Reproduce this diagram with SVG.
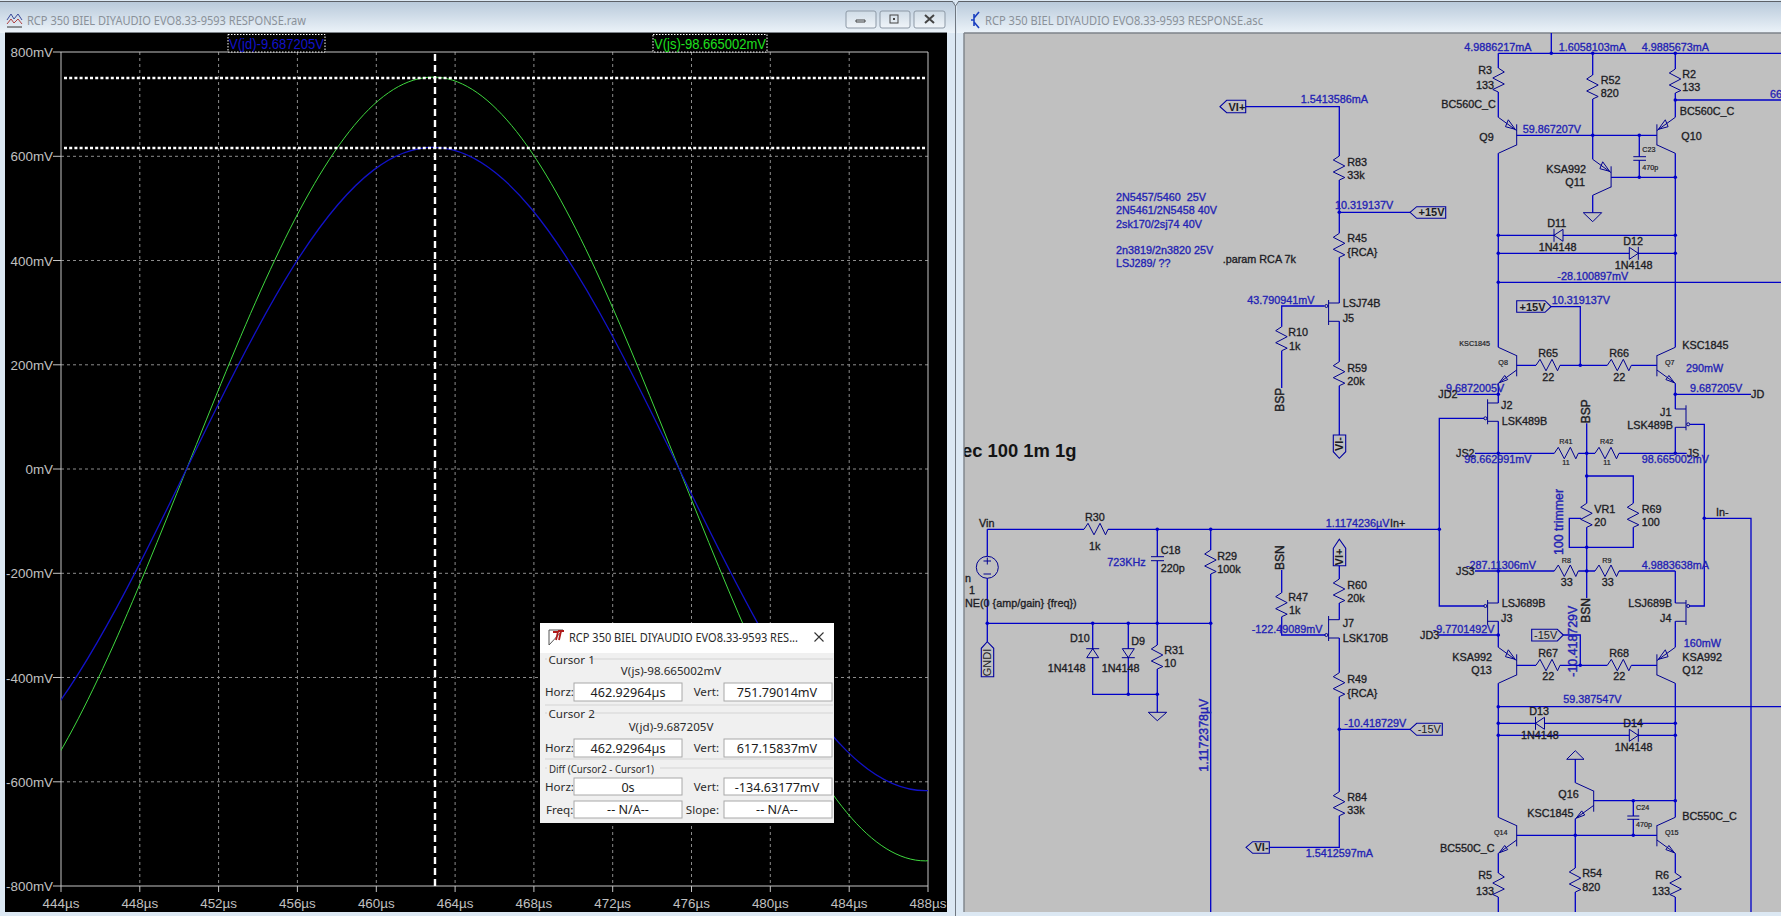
<svg xmlns="http://www.w3.org/2000/svg" width="1781" height="916" viewBox="0 0 1781 916">
<style>
text{font-family:"Liberation Sans",Arial,sans-serif}
.t{font-size:10.8px;fill:#1c1c24;stroke:#1c1c24;stroke-width:.32}
.b{font-size:10.8px;fill:#2222b4;stroke:#2222b4;stroke-width:.32}
.s{font-size:7.2px;fill:#1c1c24;stroke:#1c1c24;stroke-width:.2}
.f{font-size:11px;font-weight:bold;fill:#1c1c24}
.lg{font-size:12px;fill:#1c1c24;stroke:#1c1c24;stroke-width:.4}
.lb{font-size:12.4px;fill:#2222b4;stroke:#2222b4;stroke-width:.4}
.w{fill:none;stroke:#0000c8;stroke-width:1.3}
.sym{fill:none;stroke:#000090;stroke-width:1}
.symf{fill:#c0c0c0;stroke:#000090;stroke-width:1}
.flag{fill:none;stroke:#0000a0;stroke-width:1.1}
.j{fill:#0000c8}
.gh{stroke:#8c8c8c;stroke-width:1;stroke-dasharray:3 3;fill:none}
.ax{stroke:#c4c4c4;stroke-width:1;fill:none}
.yl{font-size:13.4px;fill:#c0c0c0;text-anchor:end}
.xl{font-size:13.4px;fill:#c0c0c0;text-anchor:middle}
.cur{fill:none;stroke:#fff;stroke-width:2.4;stroke-dasharray:3 2.2}
.wave{fill:none}
.tt{font-family:"Noto Sans","Open Sans",sans-serif;font-size:12.6px;fill:#8a9199}
.d{font-family:"Noto Sans","Open Sans",sans-serif;font-size:11.6px;fill:#2b2b2b}
.dm{text-anchor:middle}
.de{text-anchor:end}
.dv{font-family:"Noto Sans","Open Sans",sans-serif;font-size:12.6px;fill:#1c1c1c;text-anchor:middle}
.box{fill:#fff;stroke:#a8a8a8;stroke-width:1}
.sep{stroke:#d4d4d4;stroke-width:1;fill:none}
.btn{fill:url(#bt);stroke:#8d99a6;stroke-width:1}
</style>
<defs>
<linearGradient id="tb" x1="0" y1="0" x2="0" y2="1"><stop offset="0" stop-color="#b9cadb"/><stop offset="1" stop-color="#ecf3f9"/></linearGradient>
<linearGradient id="bt" x1="0" y1="0" x2="0" y2="1"><stop offset="0" stop-color="#cfdbe6"/><stop offset="1" stop-color="#f0f5f9"/></linearGradient>
<path id="r" class="sym" d="M0 0L6 4L-5.5 10L6 16L-5.5 21.5L0 24"/>
<path id="qout" class="sym" d="M0 -10V11M0 -9.6L-18.4 -18M0 4.7L-18.4 18M-9 14.3L-17.5 17.5L-12 10.2L-9 14.3"/>
<path id="qin" class="sym" d="M0 -10V11M0 -9.6L-18.4 -18M0 4.7L-18.4 18M-8.4 15.5L-1.5 6L-11.2 8.6L-8.4 15.5"/>
<g id="jf"><path class="sym" d="M0 -19V6M0 -15.3H10.7M0 3H10.7"/><circle class="sym" cx="-2.2" cy="0" r="1.5"/></g>
<path id="dd" class="symf" d="M0 -6L9 0L0 6ZM9 -6.5V6.5"/>
<circle id="jn" class="j" r="1.8"/>
<clipPath id="schem"><rect x="964.500" y="33" width="817" height="879"/></clipPath>
<clipPath id="plotclip"><rect x="61" y="52" width="867" height="834"/></clipPath>
</defs>

<g id="desktop">
<rect x="0" y="0" width="1781" height="916" fill="#dce8f3"/>
<rect x="0" y="2" width="955" height="31" fill="url(#tb)"/>
<rect x="957" y="2" width="824" height="31" fill="url(#tb)"/>
<path d="M0 1.5H953M958 1.5H1781" stroke="#5c6168" stroke-width="1.2" fill="none"/>
<path d="M952 1L955.5 6L959 1M955.5 6V916" stroke="#6f7780" stroke-width="1" fill="none"/>
</g>

<g id="plot-window">
<rect x="5" y="32" width="942" height="880" fill="#000"/>
<path d="M5 32.5H947" stroke="#7d8389" stroke-width="1.2" fill="none"/>
<text class="tt" x="27" y="25" textLength="279" lengthAdjust="spacingAndGlyphs">RCP 350 BIEL DIYAUDIO EVO8.33-9593 RESPONSE.raw</text>
<g id="raw-icon" fill="none" stroke-width="1"><path d="M7 20L11 14L14 19L18 14L22 20" stroke="#3a4a9a"/><path d="M7 24L11 19L14 23L18 19L22 24" stroke="#b04040"/><path d="M7 27H22" stroke="#333"/></g>
<g id="raw-buttons"><rect class="btn" x="846" y="11" width="30" height="17" rx="2"/><path d="M856 22H865V20H856Z" fill="none" stroke="#444"/><rect class="btn" x="880" y="11" width="30" height="17" rx="2"/><rect x="890" y="15" width="8" height="8" fill="none" stroke="#444"/><rect x="893" y="18" width="2" height="2" fill="#444"/><rect class="btn" x="914" y="11" width="31" height="17" rx="2"/><path d="M925 15L934 23M934 15L925 23" stroke="#444" stroke-width="2" fill="none"/></g>
<g id="grid">
<path class="gh" d="M139.8 52V886M218.6 52V886M297.4 52V886M376.3 52V886M455.1 52V886M533.9 52V886M612.7 52V886M691.5 52V886M770.3 52V886M849.2 52V886"/>
<path class="gh" d="M61 156.3H928M61 260.5H928M61 364.8H928M61 469H928M61 573.3H928M61 677.5H928M61 781.8H928"/>
<path class="ax" d="M53 52H928V886H53M61 52V892M139.8 886V892M218.6 886V892M297.4 886V892M376.3 886V892M455.1 886V892M533.9 886V892M612.7 886V892M691.5 886V892M770.3 886V892M849.2 886V892M928 886V892M53 156.3H61M53 260.5H61M53 364.8H61M53 469H61M53 573.3H61M53 677.5H61M53 781.8H61"/>
</g>
<g id="y-axis">
<text class="yl" x="53" y="57">800mV</text><text class="yl" x="53" y="161">600mV</text><text class="yl" x="53" y="265.5">400mV</text><text class="yl" x="53" y="370">200mV</text><text class="yl" x="53" y="474">0mV</text><text class="yl" x="53" y="578">-200mV</text><text class="yl" x="53" y="682.5">-400mV</text><text class="yl" x="53" y="787">-600mV</text><text class="yl" x="53" y="891">-800mV</text>
</g>
<g id="x-axis">
<text class="xl" x="61" y="908">444µs</text><text class="xl" x="139.8" y="908">448µs</text><text class="xl" x="218.6" y="908">452µs</text><text class="xl" x="297.4" y="908">456µs</text><text class="xl" x="376.3" y="908">460µs</text><text class="xl" x="455.1" y="908">464µs</text><text class="xl" x="533.9" y="908">468µs</text><text class="xl" x="612.7" y="908">472µs</text><text class="xl" x="691.5" y="908">476µs</text><text class="xl" x="770.3" y="908">480µs</text><text class="xl" x="849.2" y="908">484µs</text><text class="xl" x="928" y="908">488µs</text>
</g>
<g id="traces" clip-path="url(#plotclip)">
<path class="wave" stroke="#3fd83f" stroke-width="1" vector-effect="non-scaling-stroke" transform="translate(58.5 469) scale(19.705 -391.9)" d="M0 -.729C1.333 -.6143 2.667 -.4684 4 -.309C5.333 -.1496 6.667 .0228 8 .1874C9.333 .352 10.667 .5083 12 .6374C13.333 .7665 14.667 .8681 16 .9298C17.333 .9915 18.667 1.0131 20 .9921C21.333 .9711 22.667 .9075 24 .809C25.333 .7105 26.667 .5774 28 .4258C29.333 .2742 30.667 .1044 32 -.0628C33.333 -.23 34.667 -.3943 36 -.5358C37.333 -.6773 38.667 -.7956 40 -.8763C41.333 -.957 42.667 -1 44 -1L45 -.996"/>
<path class="wave" stroke="#1212c8" stroke-width="1.3" vector-effect="non-scaling-stroke" transform="translate(58.5 469) scale(19.705 -321.7)" d="M0 -.729C1.333 -.6143 2.667 -.4684 4 -.309C5.333 -.1496 6.667 .0228 8 .1874C9.333 .352 10.667 .5083 12 .6374C13.333 .7665 14.667 .8681 16 .9298C17.333 .9915 18.667 1.0131 20 .9921C21.333 .9711 22.667 .9075 24 .809C25.333 .7105 26.667 .5774 28 .4258C29.333 .2742 30.667 .1044 32 -.0628C33.333 -.23 34.667 -.3943 36 -.5358C37.333 -.6773 38.667 -.7956 40 -.8763C41.333 -.957 42.667 -1 44 -1L45 -.996"/>
</g>
<g id="cursors">
<path class="cur" d="M64 78H926M64 148H926"/>
<path class="cur" style="stroke-dasharray:7 4" d="M435 54V886"/>
</g>
<g id="legend-jd"><rect x="228" y="34.500" width="97" height="17.500" fill="#000" stroke="#fff" stroke-dasharray="1.500 1.500"/><text x="229" y="48.500" font-size="15.500" fill="#1212c8" textLength="95" lengthAdjust="spacingAndGlyphs">V(jd)-9.687205V</text></g>
<g id="legend-js"><rect x="653" y="34.500" width="114" height="17.500" fill="#000" stroke="#fff" stroke-dasharray="1.500 1.500"/><text x="654" y="48.500" font-size="15.500" fill="#1fe01f" textLength="112" lengthAdjust="spacingAndGlyphs">V(js)-98.665002mV</text></g>
</g>

<g id="schematic-window">
<rect x="964" y="33" width="817" height="879" fill="#c0c0c0"/>
<path d="M964 33V912M964 33H1781" stroke="#7d8389" stroke-width="1.400" fill="none"/>
<text class="tt" x="985" y="25" textLength="278" lengthAdjust="spacingAndGlyphs">RCP 350 BIEL DIYAUDIO EVO8.33-9593 RESPONSE.asc</text>
<path id="asc-icon" d="M971 20H974M974 14V26M974 18L979 12M974 22L979 28" fill="none" stroke="#1a3fc0" stroke-width="1.600"/>
</g>

<g id="connectors">
<path class="w" d="M1551.3 33V53.3M1498.3 53.3H1781M1498.300 53.300V68M1498.300 92V117.300M1498.300 153.300V347.300M1498.300 383.300V403M1498.300 421.300V603M1498.300 621.300V647.300M1498.300 683.300V817.300M1498.300 853.300V873M1498.300 897V912"/>
<path class="w" d="M1675.300 53.300V69M1675.300 93V117.300M1675.300 153.300V347.300M1675.300 383.300V409M1675.300 427.300V453.300M1675.300 571V603M1675.300 621.300V647.300M1675.300 683.300V817.300M1675.300 853.300V873M1675.300 897V912"/>
<path class="w" d="M1592.700 53.300V75M1592.700 99V159.300M1592.700 195.300V212.700M1516.700 135.300H1656.900M1611.100 177.300H1675.300M1639.300 135.300V156.700M1639.300 160.300V177.300"/>
<path class="w" d="M1498.300 235.300H1675.300M1498.300 253.300H1675.300M1498.300 282.300H1781M1498.300 706.700H1781M1498.300 723.300H1675.300M1498.300 735.300H1675.300M1675.300 100H1781"/>
<path class="w" d="M1516.700 365.300H1536M1560 365.300H1607.300M1631.300 365.300H1656.900M1580.300 365.300V306.700H1551"/>
<path class="w" d="M1516.700 665.300H1536M1560 665.300H1607.300M1631.300 665.300H1656.900M1580.300 665.300V635H1563.300"/>
<path class="w" d="M1457.300 394.300H1498.300M1675.300 394.300H1751M1475 453.300H1554.300M1578.300 453.300H1595M1619 453.300H1686.700"/>
<path class="w" d="M1586.700 423.300V503.300M1586.700 527.300V598M1586.700 476H1633.300V503.300M1633.300 527.300V547.300H1569.300V518.300H1581"/>
<path class="w" d="M1475 571H1554.300M1578.300 571H1595M1619 571H1675.300M1438.300 635H1498.300"/>
<path class="w" d="M1484 418.300H1439.300V606H1484M1690 424.300H1704.300V606H1690M1704.300 518.300H1751V912"/>
<path class="w" d="M1575.300 759.300V782.700M1575.300 818.700V868M1575.300 892V912M1516.700 835.300H1656.900M1593.700 800.700H1675.300M1633.300 800.700V816M1633.300 819.300V835.300"/>
<path class="w" d="M1245.700 106.700H1339.300V156M1339.300 180V233.300M1339.300 257.300V303M1339.300 321.300V361.700M1339.300 385.700V435M1339.300 212.300H1410M1324.500 306H1281.700V326.700M1281.700 350.700V388"/>
<path class="w" d="M987.300 529.300H1084M1108 529.300H1439.300M987.300 529.300V556.300M987.300 578.300V641.700M987.300 623.300H1210.700M1157.300 529.300V556.700M1157.300 560.700V645M1157.300 669V712.300M1210.700 529.300V550M1210.700 574V912M1092.700 623.300V694.300H1157.300M1128.300 623.300V694.300"/>
<path class="w" d="M1281.700 570V592.700M1281.700 616.700V635H1325M1339.300 565.700V579M1339.300 603V619.700M1339.300 638V672.700M1339.300 696.700V791.700M1339.300 815.700V847.300H1269.300M1339.300 729.300H1410"/>
<g id="junctions">
<use href="#jn" x="1551.300" y="53.300"/><use href="#jn" x="1592.700" y="53.300"/><use href="#jn" x="1675.300" y="53.300"/><use href="#jn" x="1675.300" y="100"/><use href="#jn" x="1592.700" y="135.300"/><use href="#jn" x="1639.300" y="135.300"/><use href="#jn" x="1639.300" y="177.300"/><use href="#jn" x="1675.300" y="177.300"/><use href="#jn" x="1498.300" y="235.300"/><use href="#jn" x="1675.300" y="235.300"/><use href="#jn" x="1498.300" y="253.300"/><use href="#jn" x="1675.300" y="253.300"/><use href="#jn" x="1498.300" y="282.300"/><use href="#jn" x="1580.300" y="365.300"/><use href="#jn" x="1498.300" y="394.300"/><use href="#jn" x="1675.300" y="394.300"/><use href="#jn" x="1498.300" y="453.300"/><use href="#jn" x="1586.700" y="453.300"/><use href="#jn" x="1675.300" y="453.300"/><use href="#jn" x="1586.700" y="476"/><use href="#jn" x="1704.300" y="518.300"/><use href="#jn" x="1439.300" y="529.300"/><use href="#jn" x="1586.700" y="547.300"/><use href="#jn" x="1498.300" y="571"/><use href="#jn" x="1586.700" y="571"/><use href="#jn" x="1498.300" y="635"/><use href="#jn" x="1580.300" y="665.300"/><use href="#jn" x="1498.300" y="706.700"/><use href="#jn" x="1498.300" y="723.300"/><use href="#jn" x="1675.300" y="723.300"/><use href="#jn" x="1498.300" y="735.300"/><use href="#jn" x="1675.300" y="735.300"/><use href="#jn" x="1633.300" y="800.700"/><use href="#jn" x="1675.300" y="800.700"/><use href="#jn" x="1575.300" y="835.300"/><use href="#jn" x="1633.300" y="835.300"/><use href="#jn" x="1339.300" y="212.300"/><use href="#jn" x="1157.300" y="529.300"/><use href="#jn" x="1210.700" y="529.300"/><use href="#jn" x="987.300" y="623.300"/><use href="#jn" x="1092.700" y="623.300"/><use href="#jn" x="1128.300" y="623.300"/><use href="#jn" x="1157.300" y="623.300"/><use href="#jn" x="1210.700" y="623.300"/><use href="#jn" x="1128.300" y="694.300"/><use href="#jn" x="1157.300" y="694.300"/><use href="#jn" x="1339.300" y="729.300"/>
</g>
</g>

<g id="R3"><use href="#r" transform="translate(1498.300 68)"/><text class="t" x="1478.300" y="74">R3</text><text class="t" x="1476" y="89">133</text></g>
<g id="R2"><use href="#r" transform="translate(1675.300 69) scale(-1 1)"/><text class="t" x="1682.300" y="77.700">R2</text><text class="t" x="1682.300" y="91">133</text></g>
<g id="R52"><use href="#r" transform="translate(1592.700 75) scale(-1 1)"/><text class="t" x="1600.700" y="84">R52</text><text class="t" x="1600.700" y="97">820</text></g>
<g id="Q9"><use href="#qin" transform="translate(1516.700 135.300) scale(1 -1)"/><text class="t" x="1441.300" y="108.300">BC560C_C</text><text class="t" x="1479.300" y="140.700">Q9</text></g>
<g id="Q10"><use href="#qin" transform="translate(1656.900 135.300) scale(-1 -1)"/><text class="t" x="1679.700" y="115">BC560C_C</text><text class="t" x="1681.300" y="140">Q10</text></g>
<g id="Q11"><use href="#qin" transform="translate(1611.100 177.300) scale(1 -1)"/><text class="t" x="1546.300" y="172.700">KSA992</text><text class="t" x="1565.300" y="186">Q11</text></g>
<g id="C23"><path class="sym" d="M1633.300 156.700H1646M1633.300 160.300H1646"/><text class="s" x="1642.300" y="151.700">C23</text><text class="s" x="1642.300" y="169.700">470p</text></g>
<g id="GND-top"><path class="sym" d="M1583.300 212.700H1601.700L1592.700 221.700Z"/></g>
<g id="D11"><use href="#dd" transform="translate(1563 235.300) scale(-1 1)"/><text class="t" x="1547.300" y="226.700">D11</text><text class="t" x="1538.700" y="250.700">1N4148</text></g>
<g id="D12"><use href="#dd" transform="translate(1629.300 253.300)"/><text class="t" x="1623.300" y="245">D12</text><text class="t" x="1614.700" y="268.700">1N4148</text></g>

<g id="Q8"><use href="#qout" transform="translate(1516.700 365.300)"/><text class="s" x="1459.300" y="345.700">KSC1845</text><text class="s" x="1498.300" y="365.300">Q8</text></g>
<g id="Q7"><use href="#qout" transform="translate(1656.900 365.300) scale(-1 1)"/><text class="t" x="1682.300" y="349">KSC1845</text><text class="s" x="1665" y="365.300">Q7</text><text class="b" x="1686" y="372">290mW</text></g>
<g id="R65"><use href="#r" transform="translate(1536 365.300) rotate(-90)"/><text class="t" x="1538.300" y="356.700">R65</text><text class="t" x="1542.300" y="380.700">22</text></g>
<g id="R66"><use href="#r" transform="translate(1607.300 365.300) rotate(-90)"/><text class="t" x="1609.300" y="356.700">R66</text><text class="t" x="1613.300" y="380.700">22</text></g>
<g id="J2"><use href="#jf" transform="translate(1487.600 418.300)"/><text class="t" x="1501" y="409.300">J2</text><text class="t" x="1501.700" y="424.700">LSK489B</text></g>
<g id="J1"><use href="#jf" transform="translate(1686 424.300) scale(-1 1)"/><text class="t" x="1660" y="416">J1</text><text class="t" x="1627.300" y="429.300">LSK489B</text></g>
<g id="R41"><use href="#r" transform="translate(1554.300 453.300) rotate(-90)"/><text class="s" x="1559.300" y="444.300">R41</text><text class="s" x="1562.300" y="464.700">11</text></g>
<g id="R42"><use href="#r" transform="translate(1595 453.300) rotate(-90)"/><text class="s" x="1600" y="444.300">R42</text><text class="s" x="1603.300" y="464.700">11</text></g>
<g id="VR1"><use href="#r" transform="translate(1586.700 503.300) scale(-1 1)"/><text class="t" x="1594.300" y="512.700">VR1</text><text class="t" x="1594.300" y="526">20</text></g>
<g id="R69"><use href="#r" transform="translate(1633.300 503.300) scale(-1 1)"/><text class="t" x="1641.700" y="512.700">R69</text><text class="t" x="1641.700" y="526">100</text></g>
<g id="R8"><use href="#r" transform="translate(1554.300 571) rotate(-90)"/><text class="s" x="1561.700" y="562.700">R8</text><text class="t" x="1560.700" y="585.700">33</text></g>
<g id="R9"><use href="#r" transform="translate(1595 571) rotate(-90)"/><text class="s" x="1602.300" y="562.700">R9</text><text class="t" x="1601.700" y="585.700">33</text></g>
<g id="J3"><use href="#jf" transform="translate(1487.600 606) scale(1 -1)"/><text class="t" x="1501.700" y="606.700">LSJ689B</text><text class="t" x="1501" y="621.700">J3</text></g>
<g id="J4"><use href="#jf" transform="translate(1686 606) scale(-1 -1)"/><text class="t" x="1628.300" y="606.700">LSJ689B</text><text class="t" x="1660" y="621.700">J4</text></g>
<g id="Q13"><use href="#qin" transform="translate(1516.700 665.300) scale(1 -1)"/><text class="t" x="1452.300" y="660.700">KSA992</text><text class="t" x="1471.300" y="674">Q13</text></g>
<g id="Q12"><use href="#qin" transform="translate(1656.900 665.300) scale(-1 -1)"/><text class="b" x="1683.700" y="647.300">160mW</text><text class="t" x="1682.300" y="660.700">KSA992</text><text class="t" x="1682.300" y="674">Q12</text></g>
<g id="R67"><use href="#r" transform="translate(1536 665.300) rotate(-90)"/><text class="t" x="1538.300" y="656.700">R67</text><text class="t" x="1542.300" y="680">22</text></g>
<g id="R68"><use href="#r" transform="translate(1607.300 665.300) rotate(-90)"/><text class="t" x="1609.300" y="656.700">R68</text><text class="t" x="1613.300" y="680">22</text></g>
<g id="D13"><use href="#dd" transform="translate(1544.500 723.300) scale(-1 1)"/><text class="t" x="1529.300" y="715">D13</text><text class="t" x="1521" y="738.700">1N4148</text></g>
<g id="D14"><use href="#dd" transform="translate(1629.300 735.300)"/><text class="t" x="1623.300" y="726.700">D14</text><text class="t" x="1614.700" y="750.700">1N4148</text></g>
<g id="GND-up"><path class="sym" d="M1566.700 759.300H1584L1575.300 750.700Z"/></g>
<g id="Q16"><use href="#qout" transform="translate(1593.700 800.700)"/><text class="t" x="1558.300" y="798">Q16</text><text class="t" x="1527.300" y="816.700">KSC1845</text></g>
<g id="C24"><path class="sym" d="M1627.300 816H1639.300M1627.300 819.300H1639.300"/><text class="s" x="1636" y="810.300">C24</text><text class="s" x="1636" y="827.300">470p</text></g>
<g id="Q14"><use href="#qout" transform="translate(1516.700 835.300)"/><text class="s" x="1494" y="835.300">Q14</text><text class="t" x="1440" y="851.700">BC550C_C</text></g>
<g id="Q15"><use href="#qout" transform="translate(1656.900 835.300) scale(-1 1)"/><text class="s" x="1665" y="835.300">Q15</text><text class="t" x="1682.300" y="820">BC550C_C</text></g>
<g id="R5"><use href="#r" transform="translate(1498.300 873)"/><text class="t" x="1478.300" y="879.300">R5</text><text class="t" x="1476" y="894.700">133</text></g>
<g id="R6"><use href="#r" transform="translate(1675.300 873)"/><text class="t" x="1655.300" y="879.300">R6</text><text class="t" x="1652" y="894.700">133</text></g>
<g id="R54"><use href="#r" transform="translate(1575.300 868) scale(-1 1)"/><text class="t" x="1582.300" y="876.700">R54</text><text class="t" x="1582.300" y="890.700">820</text></g>

<g id="R83"><use href="#r" transform="translate(1339.300 156) scale(-1 1)"/><text class="t" x="1347.300" y="166">R83</text><text class="t" x="1347.300" y="179.300">33k</text></g>
<g id="R45"><use href="#r" transform="translate(1339.300 233.300) scale(-1 1)"/><text class="t" x="1347.300" y="242.300">R45</text><text class="t" x="1347.300" y="256">{RCA}</text></g>
<g id="J5"><use href="#jf" transform="translate(1328.600 306) scale(1 -1)"/><text class="t" x="1342.700" y="307.300">LSJ74B</text><text class="t" x="1342.700" y="321.700">J5</text></g>
<g id="R10"><use href="#r" transform="translate(1281.700 326.700) scale(-1 1)"/><text class="t" x="1288.300" y="335.700">R10</text><text class="t" x="1289" y="350">1k</text></g>
<g id="R59"><use href="#r" transform="translate(1339.300 361.700) scale(-1 1)"/><text class="t" x="1347.300" y="372">R59</text><text class="t" x="1347.300" y="385">20k</text></g>
<g id="R30"><use href="#r" transform="translate(1084 529.300) rotate(-90)"/><text class="t" x="1085" y="521">R30</text><text class="t" x="1089" y="550">1k</text></g>
<g id="V1"><circle class="sym" cx="987.300" cy="567.300" r="11"/><path class="sym" d="M983.500 561H991M987.300 557.500V564.500M983.500 574H991"/><text class="t" x="979" y="527.300">Vin</text><text class="t" x="965" y="581.700">n</text><text class="t" x="969" y="594">1</text><text class="t" x="965" y="606.700">NE(0 {amp/gain} {freq})</text></g>
<g id="C18"><path class="sym" d="M1151 556.700H1164M1151 560.700H1164"/><text class="t" x="1160.700" y="554">C18</text><text class="t" x="1160.700" y="572.300">220p</text><text class="b" x="1107.300" y="566">723KHz</text></g>
<g id="R29"><use href="#r" transform="translate(1210.700 550) scale(-1 1)"/><text class="t" x="1217.300" y="560">R29</text><text class="t" x="1217.300" y="573.300">100k</text></g>
<g id="D10"><use href="#dd" transform="translate(1092.700 657.700) rotate(-90)"/><text class="t" x="1070" y="641.700">D10</text><text class="t" x="1047.700" y="672">1N4148</text></g>
<g id="D9"><use href="#dd" transform="translate(1128.300 648.700) rotate(90)"/><text class="t" x="1131.300" y="645">D9</text><text class="t" x="1101.700" y="672">1N4148</text></g>
<g id="R31"><use href="#r" transform="translate(1157.300 645) scale(-1 1)"/><text class="t" x="1164.300" y="654">R31</text><text class="t" x="1164.300" y="666.700">10</text></g>
<g id="GND-in"><path class="sym" d="M1148.300 712.300H1166.700L1157.300 720.700Z"/></g>
<g id="R47"><use href="#r" transform="translate(1281.700 592.700) scale(-1 1)"/><text class="t" x="1288.300" y="600.700">R47</text><text class="t" x="1289" y="614">1k</text></g>
<g id="R60"><use href="#r" transform="translate(1339.300 579) scale(-1 1)"/><text class="t" x="1347.300" y="589">R60</text><text class="t" x="1347.300" y="601.700">20k</text></g>
<g id="J7"><use href="#jf" transform="translate(1328.600 635)"/><text class="t" x="1342.700" y="626.700">J7</text><text class="t" x="1342.700" y="641.700">LSK170B</text></g>
<g id="R49"><use href="#r" transform="translate(1339.300 672.700) scale(-1 1)"/><text class="t" x="1347.300" y="682.700">R49</text><text class="t" x="1347.300" y="696.700">{RCA}</text></g>
<g id="R84"><use href="#r" transform="translate(1339.300 791.700) scale(-1 1)"/><text class="t" x="1347.300" y="801">R84</text><text class="t" x="1347.300" y="814">33k</text></g>

<g id="flag-VIp-top"><path class="flag" d="M1220 106.700L1226.700 100.300H1245.700V112.700H1226.700Z"/><text class="f" x="1228.500" y="110.800">VI+</text></g>
<g id="flag-15p-right"><path class="flag" d="M1410 212.300L1416.700 206.700H1445.700V218.300H1416.700Z"/><text class="f" x="1418.500" y="216.400">+15V</text></g>
<g id="flag-15p-center"><path class="flag" d="M1551 306.700L1545 300.700H1516.700V312.300H1545Z"/><text class="f" x="1519.500" y="310.600">+15V</text></g>
<g id="flag-15n-center"><path class="flag" d="M1563.300 635L1557.300 629.300H1531.700V641H1557.300Z"/><text class="f" x="1534" y="639" style="font-weight:normal">-15V</text></g>
<g id="flag-15n-right"><path class="flag" d="M1410 729.300L1416.700 723.300H1442.300V735.300H1416.700Z"/><text class="f" x="1417.700" y="733.300" style="font-weight:normal">-15V</text></g>
<g id="flag-VIn-J5"><path class="flag" d="M1333.300 435H1345.700V451.700L1339.300 458.300L1333.300 451.700Z"/><text class="f" text-anchor="middle" transform="translate(1343.300 444) rotate(-90)">VI-</text></g>
<g id="flag-VIp-J7"><path class="flag" d="M1333.300 565.700H1345.700V548.300L1339.300 539.300L1333.300 548.300Z"/><text class="f" text-anchor="middle" transform="translate(1343.300 557) rotate(-90)">VI+</text></g>
<g id="flag-VIn-bottom"><path class="flag" d="M1246 847.300L1252.700 841.700H1269.300V853.300H1252.700Z"/><text class="f" x="1254.500" y="851.300">VI-</text></g>
<g id="flag-GNDI"><path class="flag" d="M981.300 676.700H993.700V648.300L987.300 641.700L981.300 648.300Z"/><text class="f" text-anchor="middle" style="font-weight:normal" transform="translate(991.300 662.500) rotate(-90)">GNDI</text></g>

<g id="net-labels">
<text class="b" x="1116" y="201" xml:space="preserve">2N5457/5460  25V</text>
<text class="b" x="1116" y="214.300">2N5461/2N5458 40V</text>
<text class="b" x="1116" y="228">2sk170/2sj74 40V</text>
<text class="b" x="1116" y="254">2n3819/2n3820 25V</text>
<text class="b" x="1116" y="267.300">LSJ289/ ??</text>
<text class="t" x="1222.700" y="262.700">.param RCA 7k</text>
<text class="b" x="1300.700" y="103.300">1.5413586mA</text>
<text class="b" x="1335" y="209.300">10.319137V</text>
<text class="b" x="1247.300" y="304">43.790941mV</text>
<text class="b" x="1325.700" y="527.300">1.1174236µV</text><text class="t" x="1390" y="527.300">In+</text>
<text class="b" x="1251.700" y="633.300">-122.49089mV</text>
<text class="b" x="1344.300" y="726.700">-10.418729V</text>
<text class="b" x="1305.700" y="856.700">1.5412597mA</text>
<text class="b" x="1464.300" y="51">4.9886217mA</text>
<text class="b" x="1558.700" y="51">1.6058103mA</text>
<text class="b" x="1641.700" y="51">4.9885673mA</text>
<text class="b" x="1522.700" y="132.700">59.867207V</text>
<text class="b" x="1770" y="98">66</text>
<text class="b" x="1557.300" y="280">-28.100897mV</text>
<text class="b" x="1551.700" y="304">10.319137V</text>
<text class="b" x="1446" y="391.700">9.6872005V</text><text class="t" x="1438.300" y="397.700">JD2</text>
<text class="b" x="1690" y="391.700">9.687205V</text><text class="t" x="1751" y="397.700">JD</text>
<text class="t" x="1456" y="456.700">JS2</text><text class="b" x="1464.300" y="462.700">98.662991mV</text>
<text class="t" x="1686.700" y="456.700">JS</text><text class="b" x="1641.700" y="462.700">98.665002mV</text>
<text class="t" x="1716" y="515.700">In-</text>
<text class="b" x="1466" y="568.700">-287.11306mV</text><text class="t" x="1456" y="575">JS3</text>
<text class="b" x="1641.700" y="568.700">4.9883638mA</text>
<text class="b" x="1432.700" y="632.700">-9.7701492V</text><text class="t" x="1420" y="639">JD3</text>
<text class="b" x="1563.300" y="703.300">59.387547V</text>
<text class="lg" transform="translate(1284 411.700) rotate(-90)">BSP</text>
<text class="lg" transform="translate(1284 570) rotate(-90)">BSN</text>
<text class="lg" transform="translate(1590 423.300) rotate(-90)">BSP</text>
<text class="lg" transform="translate(1589.500 622.700) rotate(-90)">BSN</text>
<text class="lb" transform="translate(1563.300 555) rotate(-90)">100 trimmer</text>
<text class="lb" transform="translate(1577.300 676.700) rotate(-90)">-10.418729V</text>
<text class="lb" transform="translate(1208.300 771.700) rotate(-90)">1.1172378µV</text>
<text clip-path="url(#schem)" x="962" y="456.700" font-size="18.400" font-weight="bold" fill="#141414">ec 100 1m 1g</text>
</g>

<g id="cursor-dialog">
<rect x="540" y="623" width="294" height="200" fill="#f0f0f0"/>
<rect x="540" y="623" width="294" height="30" fill="#fff"/>
<g id="dlg-icon"><path d="M549 630L563 630L549 645Z" fill="#fff" stroke="#555" stroke-width="1"/><path d="M553 632H558L556 640M558 631H564M561 631L559 640" fill="none" stroke="#b01a1a" stroke-width="1.800"/></g>
<text class="d" x="569" y="642" style="font-size:12.500px" textLength="229" lengthAdjust="spacingAndGlyphs">RCP 350 BIEL DIYAUDIO EVO8.33-9593 RES...</text>
<path d="M814.500 632.500L823.500 641.500M823.500 632.500L814.500 641.500" stroke="#333" stroke-width="1.100" fill="none"/>
<path class="sep" d="M545 659H547M590 659H833M545 705H833M545 713H547M590 713H833M545 759H833M545 768H547M660 768H833"/>
<text class="d" x="548.500" y="664">Cursor 1</text>
<text class="d dm" x="671" y="675">V(js)-98.665002mV</text>
<text class="d" x="545" y="696">Horz:</text><rect class="box" x="574" y="683" width="108" height="18"/><text class="dv" x="628" y="697">462.92964µs</text>
<text class="d de" x="719" y="696">Vert:</text><rect class="box" x="724" y="683" width="108" height="18"/><text class="dv" x="777" y="697">751.79014mV</text>
<text class="d" x="548.500" y="718">Cursor 2</text>
<text class="d dm" x="671" y="731">V(jd)-9.687205V</text>
<text class="d" x="545" y="752">Horz:</text><rect class="box" x="574" y="739" width="108" height="18"/><text class="dv" x="628" y="753">462.92964µs</text>
<text class="d de" x="719" y="752">Vert:</text><rect class="box" x="724" y="739" width="108" height="18"/><text class="dv" x="777" y="753">617.15837mV</text>
<text class="d" x="549" y="773" textLength="105" lengthAdjust="spacingAndGlyphs">Diff (Cursor2 - Cursor1)</text>
<text class="d" x="545" y="791">Horz:</text><rect class="box" x="574" y="778" width="108" height="17"/><text class="dv" x="628" y="792">0s</text>
<text class="d de" x="719" y="791">Vert:</text><rect class="box" x="724" y="778" width="108" height="17"/><text class="dv" x="777" y="792">-134.63177mV</text>
<text class="d" x="546" y="814">Freq:</text><rect class="box" x="574" y="801" width="108" height="17"/><text class="dv" x="628" y="814">-- N/A--</text>
<text class="d de" x="719" y="814">Slope:</text><rect class="box" x="724" y="801" width="108" height="17"/><text class="dv" x="777" y="814">-- N/A--</text>
</g>
</svg>
